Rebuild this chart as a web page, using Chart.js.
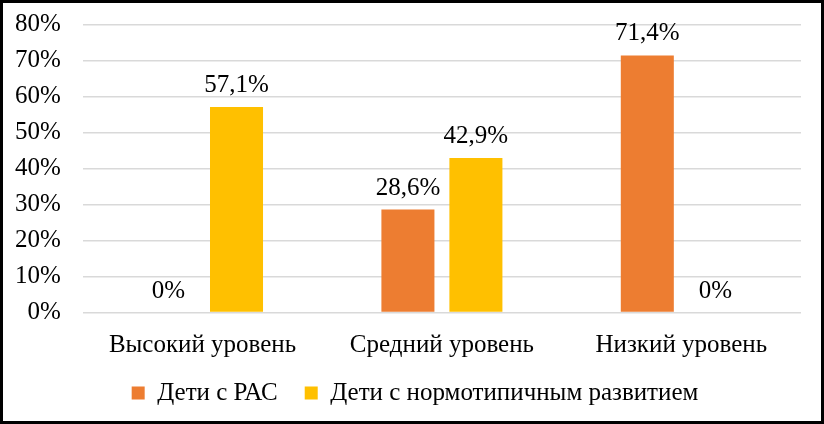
<!DOCTYPE html>
<html>
<head>
<meta charset="utf-8">
<script src="https://cdn.jsdelivr.net/npm/chart.js@4/dist/chart.umd.min.js"></script>
<style>
  html, body { margin: 0; padding: 0; background: #fff; }
  #wrap { width: 818px; height: 418px; border: 3px solid #000; position: relative; }
</style>
</head>
<body>
<div id="wrap"><canvas id="chart"></canvas></div>
<script>
const categories = ['Высокий уровень', 'Средний уровень', 'Низкий уровень'];
const seriesNames = ['Дети с РАС', 'Дети с нормотипичным развитием'];
const rasValues = [0, 28.6, 71.4];
const normValues = [57.1, 42.9, 0];
const yTicks = [0, 10, 20, 30, 40, 50, 60, 70, 80];

const FONT = '"Liberation Serif", "Times New Roman", serif';

// подписи значений над столбцами
const valueLabels = {
  id: 'valueLabels',
  afterDatasetsDraw(chart) {
    const ctx = chart.ctx;
    ctx.save();
    ctx.font = '25px ' + FONT;
    ctx.fillStyle = '#000';
    ctx.textAlign = 'center';
    ctx.textBaseline = 'alphabetic';
    chart.data.datasets.forEach((ds, i) => {
      chart.getDatasetMeta(i).data.forEach((bar, j) => {
        const v = ds.data[j];
        const txt = v === 0 ? '0%' : v.toFixed(1).replace('.', ',') + '%';
        ctx.fillText(txt, bar.x, bar.y - 15);
      });
    });
    ctx.restore();
  }
};

new Chart(document.getElementById('chart'), {
  type: 'bar',
  data: {
    labels: categories,
    datasets: [{
      label: seriesNames[0],
      data: rasValues,
      backgroundColor: '#ED7D31'
    }, {
      label: seriesNames[1],
      data: normValues,
      backgroundColor: '#FFC000'
    }]
  },
  options: {
    responsive: true,
    maintainAspectRatio: false,
    animation: false,
    categoryPercentage: 0.568,
    barPercentage: 0.78,
    layout: { padding: { left: 10, right: 4, top: 21.5, bottom: 5.5 } },
    plugins: {
      legend: {
        position: 'bottom',
        labels: {
          color: '#000',
          font: { family: FONT, size: 25 },
          boxWidth: 13,
          boxHeight: 13,
          padding: 2,
          // шире промежуток между элементами легенды, как в оригинале
          generateLabels: (chart) => {
            const items = Chart.defaults.plugins.legend.labels.generateLabels(chart);
            items.forEach((it, i) => {
              if (i < items.length - 1) it.text += '    ';
            });
            return items;
          }
        }
      },
      tooltip: { enabled: false }
    },
    scales: {
      y: {
        min: 0,
        max: 80,
        afterBuildTicks: (axis) => { axis.ticks = yTicks.map(v => ({ value: v })); },
        ticks: {
          color: '#000',
          font: { family: FONT, size: 25 },
          padding: 2,
          autoSkip: false,
          callback: (v) => v + '%'
        },
        grid: {
          color: '#D9D9D9',
          lineWidth: 1.5,
          drawTicks: true,
          tickLength: 20,
          tickColor: 'rgba(0,0,0,0)'
        },
        border: { display: false }
      },
      // пустое поле справа от области построения
      yRight: {
        axis: 'y',
        position: 'right',
        ticks: { display: false },
        grid: { display: false },
        border: { display: false },
        afterFit: (s) => { s.width = 16; }
      },
      x: {
        ticks: {
          color: '#000',
          font: { family: FONT, size: 25 },
          padding: 18
        },
        grid: { display: false, drawTicks: false },
        border: { display: false }
      }
    }
  },
  plugins: [valueLabels]
});
</script>
</body>
</html>
